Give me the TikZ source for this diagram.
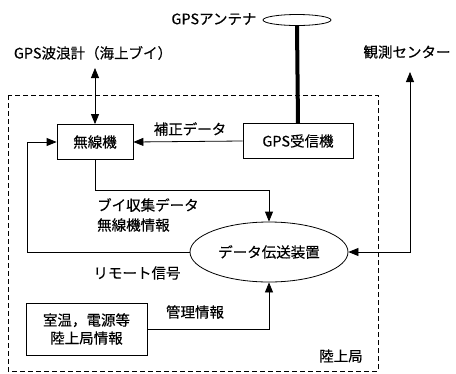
\documentclass[tikz,border=0pt]{standalone}
\usepackage{fontspec}
\newfontfamily\jp[FakeBold=0.3]{Noto Sans CJK JP}
\usetikzlibrary{arrows.meta,shapes.geometric}
\begin{document}
\begin{tikzpicture}[x=1pt,y=-1pt,
  txt/.style={font=\jp\fontsize{14.5}{18}\selectfont, inner sep=0pt},
  boxnode/.style={txt, draw, line width=0.8pt, minimum height=35pt, inner sep=2pt},
  conn/.style={line width=0.8pt},
  arr/.style={conn, -{Triangle[length=10pt,width=8pt]}},
  darr/.style={conn, {Triangle[length=10pt,width=8pt]}-{Triangle[length=10pt,width=8pt]}}]
\useasboundingbox (0,0) rectangle (456,373);
% dashed land station boundary
\draw[line width=0.8pt, dash pattern=on 5pt off 3pt] (8,95) rectangle (378,371);
% nodes
\node[draw, ellipse, line width=0.8pt, minimum width=68pt, minimum height=11pt, inner sep=0pt] (ant) at (297,20) {};
\node[txt] (antlbl) at (214,19) {GPSアンテナ};
\node[boxnode, minimum width=110pt] (rx) at (298,141) {GPS受信機};
\node[boxnode, minimum width=76pt] (radio) at (95,142) {無線機};
\node[txt] (buoy) at (93,53) {GPS波浪計（海上ブイ）};
\node[txt] (ctr) at (407,52) {観測センター};
\node[txt, draw, ellipse, line width=0.8pt, minimum width=158pt, minimum height=60pt] (dts) at (269,252) {データ伝送装置};
\node[boxnode, minimum width=121pt, minimum height=52pt, align=center] (land) at (86.5,329) {室温，電源等\\陸上局情報};
\node[txt] (landlbl) at (341,356) {陸上局};
% labels
\node[txt] (hosei) at (190,129) {補正データ};
\node[txt, anchor=west] (buoydata) at (97,205) {ブイ収集データ};
\node[txt, anchor=west] (radioinfo) at (97,225) {無線機情報};
\node[txt] (remote) at (137,273) {リモート信号};
\node[txt] (kanri) at (195,312) {管理情報};
% coordinates
\coordinate (c1) at (95,190);
\coordinate (c2) at (27,252);
\coordinate (c3) at (27,142);
\coordinate (c4) at (410,252);
\coordinate (c5) at (410,72);
\coordinate (c6) at (95,68);
% connectors
\draw[line width=4pt] (ant.south) -- (rx.north);
\draw[darr] (c6) -- (radio.north);
\draw[arr] (rx.west) -- (radio.east);
\draw[arr] (radio.south) -- (c1) -| (dts.north);
\draw[arr] (dts.west) -- (c2) -- (c3) -- (radio.west);
\draw[arr] (land.east) -| (dts.south);
\draw[darr] (dts.east) -- (c4) -- (c5);
\end{tikzpicture}
\end{document}
